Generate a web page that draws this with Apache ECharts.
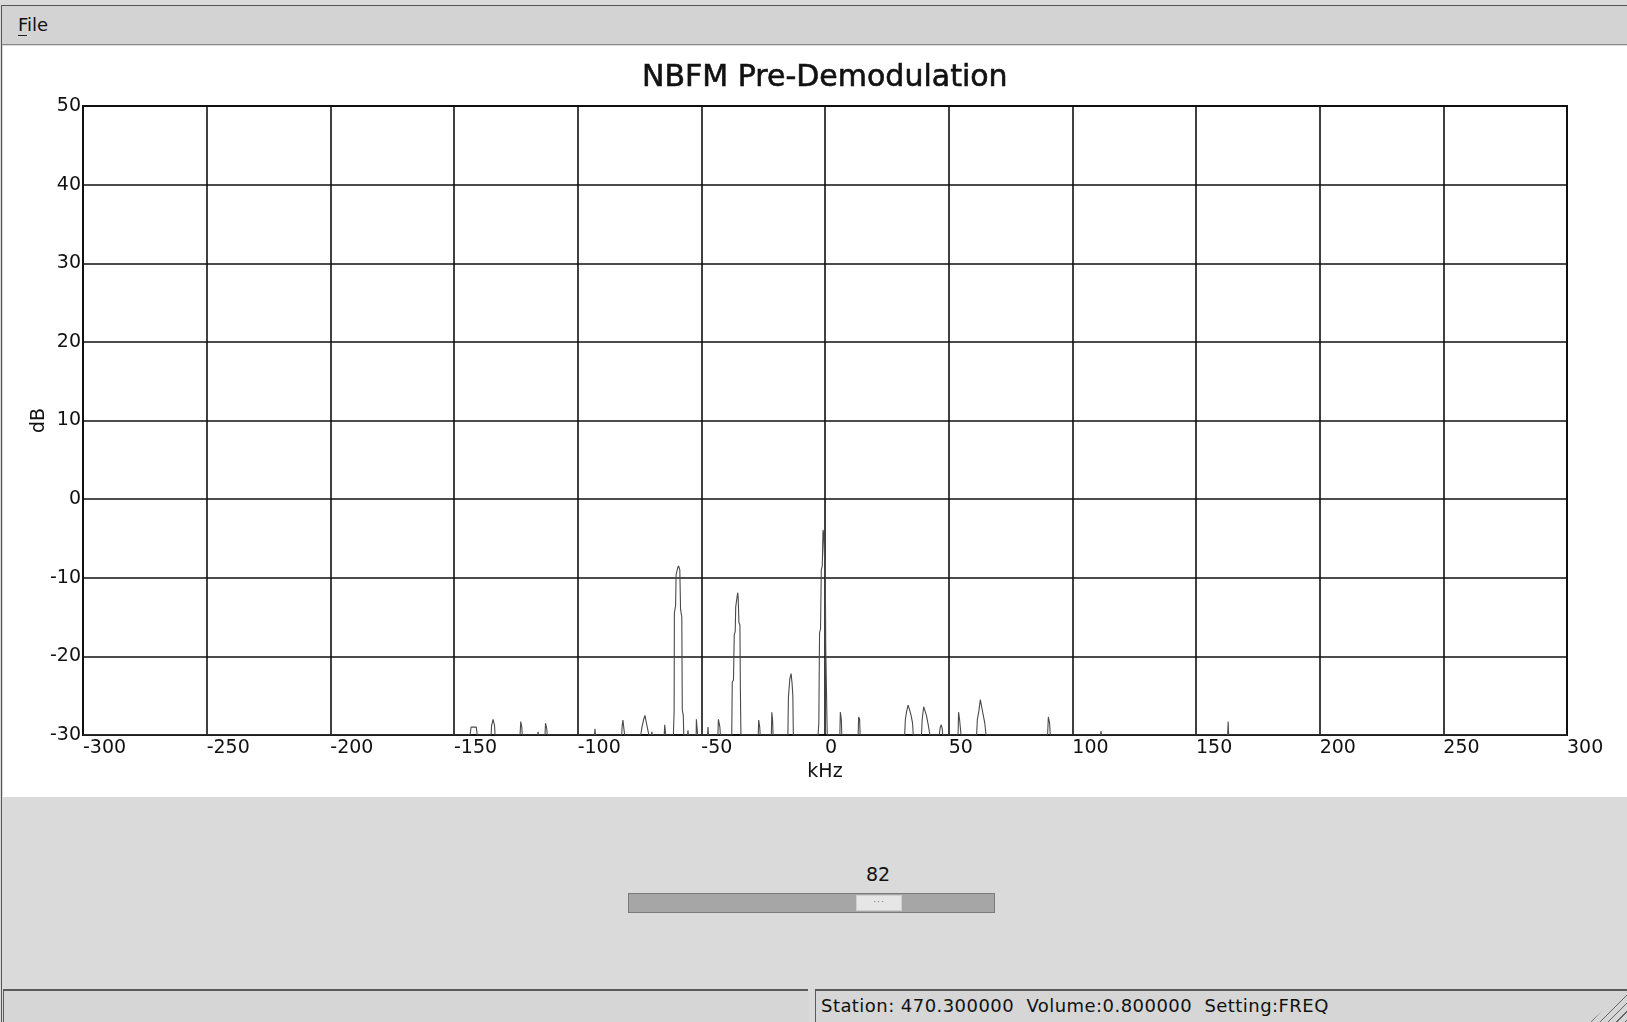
<!DOCTYPE html>
<html>
<head>
<meta charset="utf-8">
<script src="https://cdn.jsdelivr.net/npm/echarts@6/dist/echarts.min.js"></script>
<style>
  html, body { margin:0; padding:0; }
  body { width:1627px; height:1022px; overflow:hidden; position:relative;
         background:#dadada; font-family:"DejaVu Sans", sans-serif; color:#111; }
  .abs { position:absolute; }
  #menubar { left:2px; top:5px; width:1625px; height:40px; background:#d3d3d3;
             border-top:1px solid #555; border-bottom:1px solid #8a8a8a; box-sizing:border-box; }
  #menubar span { position:absolute; left:16px; top:8px; font-size:18px; }
  #menubar u { text-decoration:none; border-bottom:1px solid #222; }
  #leftedge { left:1px; top:5px; width:1px; height:1017px; background:#555; }
  #panel { left:3px; top:46px; width:1624px; height:751px; background:#fff; }
  #chart { width:1624px; height:751px; }
  #sval { left:838px; top:863px; width:80px; text-align:center; font-size:19px; }
  #track { left:628px; top:893px; width:367px; height:20px; background:#a6a6a6;
           border:1px solid #7a7a7a; box-sizing:border-box; }
  #thumb { left:856px; top:895px; width:46px; height:16px; background:#e6e6e6;
           border:1px solid #cfcfcf; box-sizing:border-box; font-size:9px; color:#777;
           text-align:center; line-height:13px; letter-spacing:1px; }
  .status { top:989px; height:33px; border-top:2px solid #5a5a5a; border-left:1px solid #5a5a5a;
            box-sizing:border-box; background:#d6d6d6; }
  #st1 { left:3px; width:805px; }
  #st2 { left:815px; width:812px; }
  #st2 span { position:absolute; left:5px; top:4px; font-size:18px; letter-spacing:0.45px; white-space:pre; }
  #grip { left:1590px; top:990px; width:37px; height:32px;
          background:repeating-linear-gradient(135deg, transparent 0 5px, #666 5px 6px); 
          clip-path:polygon(100% 0, 100% 100%, 0 100%); }
</style>
</head>
<body>
<div id="menubar" class="abs"><span><u>F</u>ile</span></div>
<div id="leftedge" class="abs"></div>
<div id="panel" class="abs"><div id="chart"></div></div>
<div id="sval" class="abs">82</div>
<div id="track" class="abs"></div>
<div id="thumb" class="abs">···</div>
<div id="st1" class="abs status"></div>
<div id="st2" class="abs status"><span>Station: 470.300000  Volume:0.800000  Setting:FREQ</span></div>
<div id="grip" class="abs"></div>
<script>
// Chart text
const chartTitle = 'NBFM Pre-Demodulation';
const xAxisName = 'kHz';
const yAxisName = 'dB';
// Axis ranges / tick steps
const xRange = [-300, 300];
const xStep = 50;
const yRange = [-30, 50];
const yStep = 10;

// Spectrum: frequency (kHz) and level (dB)
const freqKHz = [
  -300,
  -143.5, -143.1, -141, -140.6,
  -135, -134.8, -134.2, -133.6, -133.4,
  -123.3, -123, -122.6, -122.4,
  -116.2, -116, -115.8,
  -113.2, -113, -112.5, -112.3,
  -93.2, -93, -92.8,
  -82.2, -82, -81.7, -81.2, -81,
  -74.5, -74, -73.3, -72.8, -72.2, -71.6, -71.2,
  -70.2, -70, -69.8,
  -65, -64.8, -64.4,
  -61.3, -61, -60.9, -60.4, -60.2, -59.6, -59.2, -58.7, -58.4, -57.9, -57.7, -57.3, -57.1,
  -55.6, -55.4, -55.2,
  -52.1, -52, -51.6, -51.5,
  -47.5, -47.3, -47.1,
  -43.3, -43.1, -42.9, -42.5, -42.3,
  -37.7, -37.5, -37, -36.7, -36.3, -36.1, -35.6, -35.3, -35.1, -34.8, -34.4, -34.2, -34,
  -27, -26.8, -26.4, -26.2,
  -21.7, -21.5, -21.2, -21,
  -15, -14.8, -14.4, -14.2, -13.7, -13.3, -13, -12.8,
  -2.8, -2.5, -2.2, -1.8, -1.5, -1.1, -0.8, -0.5, -0.2, 0.1, 0.3, 0.7, 0.9,
  6, 6.2, 6.6, 6.8,
  13.4, 13.6, 14, 14.2,
  32.2, 32.5, 33, 33.6, 34.2, 34.8, 35.4, 35.7,
  39, 39.3, 39.9, 40.5, 41, 41.8, 42.4,
  46.2, 46.6, 47, 47.4, 47.6,
  53.8, 54, 54.4, 54.7, 55,
  61.3, 61.6, 62.2, 62.8, 63.4, 64, 64.6, 65.1,
  90, 90.3, 90.8, 91.1,
  111.4, 111.6, 111.8,
  162.8, 163, 163.2,
  300
];
const levelDb = [
  -30,
  -30, -29, -29, -30,
  -30, -28.8, -28, -28.8, -30,
  -30, -28.3, -29, -30,
  -30, -29.6, -30,
  -30, -28.5, -29.2, -30,
  -30, -29.2, -30,
  -30, -28.8, -28.1, -29.5, -30,
  -30, -29, -28, -27.5, -28.5, -29.4, -30,
  -30, -29.6, -30,
  -30, -28.7, -30,
  -30, -27, -14.5, -13.5, -9.6, -8.8, -8.5, -9, -14, -15, -26.8, -27.5, -30,
  -30, -29.4, -30,
  -30, -28, -28.2, -30,
  -30, -29, -30,
  -30, -28, -27.8, -29, -30,
  -30, -23.3, -23, -17.3, -16.8, -13.7, -13.5, -11.9, -12.5, -15.7, -16, -24.5, -30,
  -30, -28.1, -29, -30,
  -30, -27.1, -28, -30,
  -30, -25.2, -25, -22.8, -22.2, -23.5, -25, -30,
  -30, -28.5, -17, -16.5, -9, -8.5, -3.9, -4.5, -7.5, -8, -18.8, -19, -30,
  -30, -27.1, -28, -30,
  -30, -27.7, -28, -30,
  -30, -28, -27, -26.2, -26.8, -27.5, -28.5, -30,
  -30, -28, -26.4, -27, -27.5, -28.8, -30,
  -30, -29, -28.7, -29.2, -30,
  -30, -27.1, -28, -29, -30,
  -30, -28, -27, -25.5, -26.5, -27.5, -28.5, -30,
  -30, -27.7, -28.5, -30,
  -30, -29.5, -30,
  -30, -28.3, -30,
  -30
];

const seriesData = freqKHz.map((f, i) => [f, levelDb[i]]);
const font = 'DejaVu Sans';
const ink = '#111';

const chart = echarts.init(document.getElementById('chart'), null, { renderer: 'canvas' });
chart.setOption({
  animation: false,
  backgroundColor: '#fff',
  title: {
    text: chartTitle,
    left: 634,
    top: 12,
    textStyle: { fontFamily: font, fontSize: 30, fontWeight: 'normal', color: ink,
                 textBorderColor: ink, textBorderWidth: 0.6 }
  },
  grid: {
    left: 80, right: 60, top: 60, bottom: 62,
    show: true, borderColor: ink, borderWidth: 2, backgroundColor: '#fff'
  },
  xAxis: {
    type: 'value',
    min: xRange[0], max: xRange[1], interval: xStep,
    name: xAxisName, nameLocation: 'middle', nameGap: 28, nameMoveOverlap: false,
    nameTextStyle: { fontFamily: font, fontSize: 19, color: ink },
    axisLine: { show: true, onZero: false, lineStyle: { color: ink, width: 2 } },
    axisTick: { show: false },
    axisLabel: { align: 'left', margin: 4, fontFamily: font, fontSize: 19, color: ink,
                 showMinLabel: true, showMaxLabel: true, hideOverlap: false },
    splitLine: { show: true, lineStyle: { color: ink, width: 1.6 } }
  },
  yAxis: {
    type: 'value',
    min: yRange[0], max: yRange[1], interval: yStep,
    name: yAxisName, nameLocation: 'middle', nameGap: 34, nameMoveOverlap: false,
    nameTextStyle: { fontFamily: font, fontSize: 19, color: ink },
    axisLine: { show: true, onZero: false, lineStyle: { color: ink, width: 2 } },
    axisTick: { show: false },
    axisLabel: { margin: 2, fontFamily: font, fontSize: 19, color: ink,
                 showMinLabel: true, showMaxLabel: true },
    splitLine: { show: true, lineStyle: { color: ink, width: 1.6 } }
  },
  series: [{
    type: 'line',
    data: seriesData,
    showSymbol: false,
    clip: true,
    lineStyle: { color: '#4a4a4a', width: 1.1 },
    z: 3
  }]
});
</script>
</body>
</html>
